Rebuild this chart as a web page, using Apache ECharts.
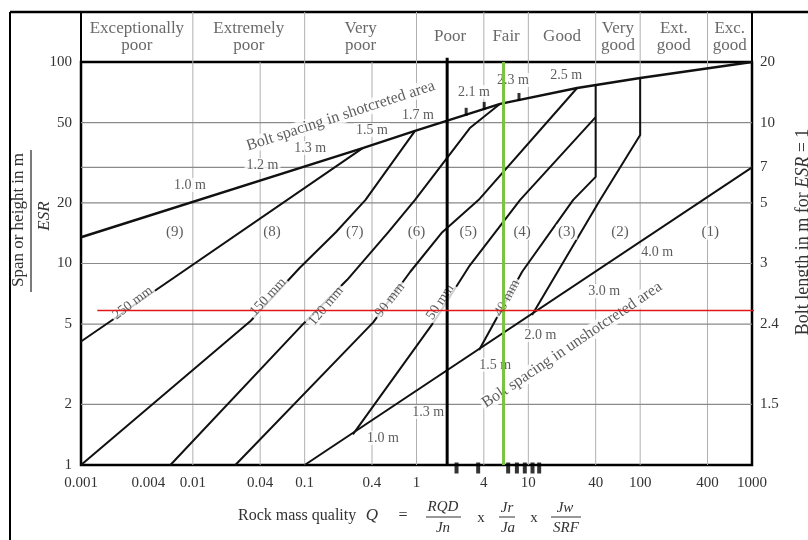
<!DOCTYPE html>
<html><head><meta charset="utf-8">
<script src="https://cdn.jsdelivr.net/npm/echarts@6/dist/echarts.min.js"></script>
<style>html,body{margin:0;padding:0;background:#fff}#c{width:808px;height:540px}</style>
</head><body><div id="c"></div>
<script>
// ---------------- data ----------------
const qTicks = [0.001,0.004,0.01,0.04,0.1,0.4,1,4,10,40,100,400,1000];
const qTickLabels = ['0.001','0.004','0.01','0.04','0.1','0.4','1','4','10','40','100','400','1000'];
const spanTicks = [1,2,5,10,20,50,100];
const spanTickLabels = ['1','2','5','10','20','50','100'];
const boltTickSpans = [100,50,30,20,10,5,2];
const boltTickLabels = ['20','10','7','5','3','2.4','1.5'];
const qGridX = [0.01,0.04,0.1,0.4,1,4,10,40,100,400];
const spanGridY = [2,5,10,20,30,50];
const classNames = ['Exceptionally\npoor','Extremely\npoor','Very\npoor','Poor','Fair','Good','Very\ngood','Ext.\ngood','Exc.\ngood'];
const classBounds = [0.001,0.01,0.1,1,4,10,40,100,400,1000];

// curves [Q, span/ESR]
const boltShotcreted = [[0.001,13.5],[0.33,37.4],[0.97,45.5],[5.6,62],[27.3,74.3],[100,83.3],[1000,100]];
const boltUnshotcreted = [[0.1,1],[1000,30]];
const shot250 = [[0.001,4.1],[0.33,37.4]];
const shot150 = [[0.001,1],[0.033,5.2],[0.09,9.5],[0.19,14.3],[0.35,20.7],[0.97,45.5]];
const shot120 = [[0.0063,1],[0.1,5.1],[0.24,8.3],[0.56,14.3],[0.97,20.7],[3.0,47],[5.6,62]];
const shot90 = [[0.024,1],[0.41,5.1],[0.88,9.1],[1.7,14.3],[3.6,20.7],[27.3,74.3]];
const shot50 = [[0.27,1.42],[1.41,5.07],[3.0,9.8],[8.45,20.7],[40,53.3]];
const shot40 = [[3.63,3.72],[8.8,9.1],[25.2,20.7],[40,26.9],[40,76.7]];
const cat2Bound = [[10.8,5.55],[43.9,20.7],[100,43.4],[100,83.3]];

// annotations
const regionText = ['(9)','(8)','(7)','(6)','(5)','(4)','(3)','(2)','(1)'];
const regionQ = [0.0069,0.051,0.28,1.0,2.9,8.8,22,66,423];
const regionSpan = [14.3,14.3,14.3,14.3,14.3,14.3,14.3,14.3,14.3];
const topSpacingText = ['1.0 m','1.2 m','1.3 m','1.5 m','1.7 m','2.1 m','2.3 m','2.5 m'];
const topSpacingQ = [0.0094,0.042,0.112,0.40,1.03,3.27,7.3,21.8];
const topSpacingSpan = [24.5,30.8,37.4,46,54.6,71,81.4,86.2];
const lowSpacingText = ['1.0 m','1.3 m','1.5 m','2.0 m','3.0 m','4.0 m'];
const lowSpacingQ = [0.50,1.27,5.05,12.8,47.6,142];
const lowSpacingSpan = [1.36,1.83,3.14,4.42,7.3,11.3];
const thickText = ['250 mm','150 mm','120 mm','90 mm','50 mm','40 mm'];
const thickQ = [0.0029,0.047,0.155,0.58,1.63,6.46];
const thickSpan = [6.37,6.82,6.15,6.59,6.44,6.74];
const thickAngle = [37,47,50,52,57,62];
const areaText = ['Bolt spacing in shotcreted area','Bolt spacing in unshotcreted area'];
const areaQ = [0.21,24.6];
const areaSpan = [54,3.94];
const areaAngle = [18,34];
const axisMarksQ = [2.28,3.56,6.6,7.9,9.3,10.9,12.5];
const topMarksQ = [2.78,4.03,8.25];
const topMarksSpan = [54.7,58.5,64.8];
const refBlackQ = 1.88;
const refGreenQ = 6.0;
const refRedSpan = 5.84;
const refRedQ = [0.0014,1340];

// ---------------- chart ----------------
const FONT = '"Liberation Serif","Times New Roman",serif';
const TXT = '#333';
const lg = v => +Math.log10(v).toFixed(10);
const fmt = (vals, labels) => v => { for (let i = 0; i < vals.length; i++) { if (Math.abs(lg(vals[i]) - v) < 1e-6) return labels[i]; } return ''; };

const series = [];
qGridX.forEach(q => series.push({type:'line', xAxisIndex:0, yAxisIndex:0, data:[[q,1],[q,100]], symbol:'none', silent:true, z:1, lineStyle:{color:'#b0b0b0', width:1}}));
spanGridY.forEach(s => series.push({type:'line', xAxisIndex:0, yAxisIndex:0, data:[[0.001,s],[1000,s]], symbol:'none', silent:true, z:1, lineStyle:{color:'#8a8a8a', width:1.2}}));
classBounds.slice(1,-1).forEach(q => series.push({type:'line', xAxisIndex:2, yAxisIndex:3, data:[[q,0],[q,1]], symbol:'none', silent:true, z:1, lineStyle:{color:'#b0b0b0', width:1}}));

function curve(data, w) { return {type:'line', xAxisIndex:0, yAxisIndex:0, data, symbol:'none', silent:true, z:3, lineStyle:{color:'#111', width:w || 2}}; }
[boltShotcreted].forEach(d => series.push(curve(d, 2.4)));
[boltUnshotcreted, shot250, shot150, shot120, shot90, shot50, shot40, cat2Bound].forEach(d => series.push(curve(d, 2)));

function labels(texts, qs, spans, size, angles, bg) {
  return {type:'scatter', xAxisIndex:0, yAxisIndex:0, symbolSize:1, silent:true, z:4,
    itemStyle:{color:'rgba(0,0,0,0)'},
    data: texts.map((t,i) => ({value:[qs[i], spans[i]], label:{formatter:t, rotate: angles ? angles[i] : 0}})),
    label:{show:true, position:'inside', color:TXT, fontFamily:FONT, fontSize:size, backgroundColor: bg ? '#fff' : 'transparent', padding:[0,2]}};
}
series.push(labels(regionText, regionQ, regionSpan, 15, null, true));
series.push(labels(topSpacingText, topSpacingQ, topSpacingSpan, 14, null, true));
series.push(labels(lowSpacingText, lowSpacingQ, lowSpacingSpan, 14, null, true));
series.push(labels(thickText, thickQ, thickSpan, 14, thickAngle, true));
series.push(labels(areaText, areaQ, areaSpan, 16, areaAngle, true));

// header classes
series.push({type:'scatter', xAxisIndex:2, yAxisIndex:3, symbolSize:1, silent:true, itemStyle:{color:'rgba(0,0,0,0)'},
  data: classNames.map((n,i) => ({value:[Math.sqrt(classBounds[i]*classBounds[i+1]), 0.5], label:{formatter:n}})),
  label:{show:true, position:'inside', color:'#444', fontFamily:FONT, fontSize:17, lineHeight:17}});

// marks
series.push({type:'scatter', xAxisIndex:0, yAxisIndex:0, symbol:'rect', symbolSize:[4,11], symbolOffset:[0,3], clip:false, silent:true, z:6,
  itemStyle:{color:'#000'}, data: axisMarksQ.map(q => [q,1])});
series.push({type:'scatter', xAxisIndex:0, yAxisIndex:0, symbol:'rect', symbolSize:[3,8], symbolOffset:[0,-3], clip:false, silent:true, z:6,
  itemStyle:{color:'#000'}, data: topMarksQ.map((q,i) => [q, topMarksSpan[i]])});

// reference lines
series.push({type:'line', xAxisIndex:0, yAxisIndex:0, data:[[refBlackQ,1],[refBlackQ,105]], symbol:'none', clip:false, silent:true, z:7, lineStyle:{color:'#000', width:3}});
series.push({type:'line', xAxisIndex:0, yAxisIndex:0, data:[[refGreenQ,1],[refGreenQ,100]], symbol:'none', clip:false, silent:true, z:7, lineStyle:{color:'#7dc242', width:3}});
series.push({type:'line', xAxisIndex:0, yAxisIndex:0, data:[[refRedQ[0],refRedSpan],[refRedQ[1],refRedSpan]], symbol:'none', clip:false, silent:true, z:8, lineStyle:{color:'#e01818', width:1.4}});

const hidden = {axisLine:{show:false}, axisTick:{show:false}, axisLabel:{show:false}, splitLine:{show:false}};
const lblStyle = {color:TXT, fontFamily:FONT, fontSize:15};

const option = {
  animation:false,
  backgroundColor:'#fff',
  textStyle:{fontFamily:FONT},
  grid:[
    {left:81, right:56, top:62, bottom:75, show:true, borderColor:'#000', borderWidth:2.5, backgroundColor:'transparent'},
    {left:81, right:56, top:12, height:50, show:true, borderColor:'#000', borderWidth:2, backgroundColor:'transparent'}
  ],
  xAxis:[
    Object.assign({gridIndex:0, type:'log', logBase:10, min:0.001, max:1000}, hidden),
    {gridIndex:0, type:'value', min:-3, max:3, position:'bottom', axisLine:{show:false}, axisTick:{show:false}, splitLine:{show:false},
      axisLabel:Object.assign({customValues: qTicks.map(lg), formatter: fmt(qTicks, qTickLabels), margin:11}, lblStyle)},
    Object.assign({gridIndex:1, type:'log', logBase:10, min:0.001, max:1000}, hidden)
  ],
  yAxis:[
    Object.assign({gridIndex:0, type:'log', logBase:10, min:1, max:100, position:'left'}, hidden),
    {gridIndex:0, type:'value', min:0, max:2, position:'left', axisLine:{show:false}, axisTick:{show:false}, splitLine:{show:false},
      axisLabel:Object.assign({customValues: spanTicks.map(lg), formatter: fmt(spanTicks, spanTickLabels), margin:9}, lblStyle)},
    {gridIndex:0, type:'value', min:0, max:2, position:'right', axisLine:{show:false}, axisTick:{show:false}, splitLine:{show:false},
      axisLabel:Object.assign({customValues: boltTickSpans.map(lg), formatter: fmt(boltTickSpans, boltTickLabels), margin:8}, lblStyle)},
    Object.assign({gridIndex:1, type:'value', min:0, max:1, position:'left'}, hidden)
  ],
  series,
  graphic:[
    {type:'line', shape:{x1:10,y1:12,x2:10,y2:540}, style:{stroke:'#000', lineWidth:2}, silent:true},
    {type:'line', shape:{x1:10,y1:12,x2:808,y2:12}, style:{stroke:'#000', lineWidth:2.5}, silent:true},
    {type:'text', x:19, y:220, rotation:Math.PI/2, silent:true, style:{text:'Span or height in m', font:'17px '+FONT, fill:TXT, align:'center', verticalAlign:'middle'}},
    {type:'line', shape:{x1:31,y1:150,x2:31,y2:292}, style:{stroke:'#333', lineWidth:1.3}, silent:true},
    {type:'text', x:45, y:216, rotation:Math.PI/2, silent:true, style:{text:'ESR', font:'italic 17px '+FONT, fill:TXT, align:'center', verticalAlign:'middle'}},
    {type:'text', x:803, y:232, rotation:Math.PI/2, silent:true, style:{text:'{a|Bolt length in m for }{b|ESR}{a| = 1}', align:'center', verticalAlign:'middle',
      rich:{a:{font:'18px '+FONT, fill:TXT}, b:{font:'italic 18px '+FONT, fill:TXT}}}},
    {type:'text', x:238, y:516, silent:true, style:{text:'Rock mass quality', font:'16px '+FONT, fill:TXT, align:'left', verticalAlign:'middle'}},
    {type:'text', x:372, y:516, silent:true, style:{text:'Q', font:'italic 17px '+FONT, fill:TXT, align:'center', verticalAlign:'middle'}},
    {type:'text', x:403, y:516, silent:true, style:{text:'=', font:'16px '+FONT, fill:TXT, align:'center', verticalAlign:'middle'}},
    {type:'text', x:443, y:507, silent:true, style:{text:'RQD', font:'italic 15px '+FONT, fill:TXT, align:'center', verticalAlign:'middle'}},
    {type:'line', shape:{x1:426,y1:517,x2:461,y2:517}, style:{stroke:'#333', lineWidth:1}, silent:true},
    {type:'text', x:443, y:528, silent:true, style:{text:'Jn', font:'italic 15px '+FONT, fill:TXT, align:'center', verticalAlign:'middle'}},
    {type:'text', x:481, y:518, silent:true, style:{text:'x', font:'15px '+FONT, fill:TXT, align:'center', verticalAlign:'middle'}},
    {type:'text', x:507, y:508, silent:true, style:{text:'Jr', font:'italic 15px '+FONT, fill:TXT, align:'center', verticalAlign:'middle'}},
    {type:'line', shape:{x1:499,y1:517,x2:515,y2:517}, style:{stroke:'#333', lineWidth:1}, silent:true},
    {type:'text', x:508, y:528, silent:true, style:{text:'Ja', font:'italic 15px '+FONT, fill:TXT, align:'center', verticalAlign:'middle'}},
    {type:'text', x:534, y:518, silent:true, style:{text:'x', font:'15px '+FONT, fill:TXT, align:'center', verticalAlign:'middle'}},
    {type:'text', x:565, y:508, silent:true, style:{text:'Jw', font:'italic 15px '+FONT, fill:TXT, align:'center', verticalAlign:'middle'}},
    {type:'line', shape:{x1:551,y1:517,x2:581,y2:517}, style:{stroke:'#333', lineWidth:1}, silent:true},
    {type:'text', x:566, y:528, silent:true, style:{text:'SRF', font:'italic 15px '+FONT, fill:TXT, align:'center', verticalAlign:'middle'}}
  ]
};
const chart = echarts.init(document.getElementById('c'), null, {renderer:'canvas', width:808, height:540});
chart.setOption(option);
</script>
</body></html>
